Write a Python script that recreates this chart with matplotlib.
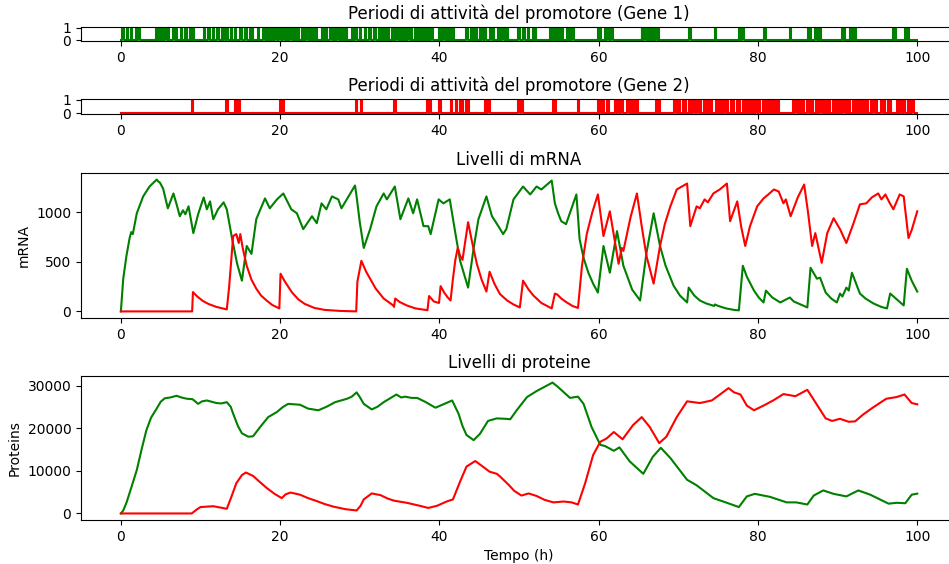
import numpy as np
import matplotlib
matplotlib.use("Agg")
import matplotlib.pyplot as plt

T_END = 100.0

# promoter switching times: consecutive pairs are (turn on, turn off), in hours
gene1_switch = [
	0.2, 0.35, 0.75, 0.9, 1.3, 1.45, 1.85, 2.0, 2.2, 2.35,
	4.4, 4.55, 4.7, 4.85, 5.0, 5.15, 5.3, 5.45, 5.6, 5.75, 5.9, 6.05,
	6.6, 6.75, 6.9, 7.05, 7.5, 7.7, 8.0, 8.12, 8.22, 8.35, 8.7, 8.85, 9.0, 9.15,
	10.4, 10.55, 11.0, 11.2, 11.6, 11.75, 12.1, 12.3,
	12.7, 12.85, 13.0, 13.15, 13.25, 13.4, 13.85, 13.95,
	14.3, 14.45, 15.0, 15.2, 15.6, 15.8, 16.2, 16.35, 16.45, 16.6, 17.2, 17.4,
	17.9, 18.05, 18.2, 18.35, 18.5, 18.65, 18.8, 18.95, 19.1, 19.25, 19.4, 19.55,
	19.9, 20.05,
	20.4, 20.55, 20.7, 20.85, 21.0, 21.15, 21.3, 21.45, 21.6, 21.75, 21.9, 22.05, 22.2, 22.35,
	22.7, 22.85, 23.0, 23.15, 23.3, 23.45, 23.6, 23.75, 23.9, 24.05, 24.2, 24.35, 24.45, 24.6,
	25.2, 25.35, 25.5, 25.65, 25.75, 25.9,
	26.3, 26.45, 26.6, 26.75, 26.9, 27.05, 27.2, 27.35, 27.5, 27.65, 27.8, 27.95, 28.1, 28.25, 28.3, 28.4,
	29.0, 29.1, 29.4, 29.6, 30.0, 30.2, 30.6, 30.8, 31.2, 31.4, 31.8, 32.0,
	32.4, 32.55, 32.7, 32.85, 33.0, 33.15, 33.3, 33.45, 33.5, 33.65,
	34.0, 34.15, 34.3, 34.45, 34.6, 34.75, 34.9, 35.05, 35.2, 35.35, 35.5, 35.65,
	35.8, 35.95, 36.1, 36.25, 36.4, 36.55,
	36.9, 37.05, 37.2, 37.35, 37.5, 37.65, 37.8, 37.95, 38.1, 38.25, 38.4, 38.55,
	38.7, 38.85, 39.0, 39.15,
	39.9, 40.05, 40.2, 40.35, 40.5, 40.65, 40.8, 40.95, 41.1, 41.25, 41.4, 41.55, 41.65, 41.8,
	43.4, 43.6, 44.0, 44.15, 44.3, 44.45, 44.6, 44.75,
	45.1, 45.25, 45.4, 45.55, 45.65, 45.8, 46.4, 46.55, 46.7, 46.85,
	47.3, 47.45, 47.6, 47.75, 47.9, 48.05, 48.2, 48.35, 48.5, 48.65,
	49.9, 50.1, 50.55, 50.75, 51.1, 51.3, 51.75, 51.9, 52.0, 52.15,
	53.9, 54.05, 54.2, 54.35, 54.5, 54.65, 54.8, 54.95, 55.1, 55.25, 55.4, 55.55,
	56.0, 56.1, 56.4, 56.55, 56.7, 56.85,
	59.9, 60.05, 60.2, 60.35, 60.8, 60.95, 61.1, 61.25, 61.6, 61.8,
	65.4, 65.5, 65.75, 65.9, 66.05, 66.2, 66.35, 66.5, 66.65, 66.8, 66.95, 67.1, 67.25, 67.4, 67.45, 67.6,
	71.3, 71.6, 74.6, 74.75, 77.6, 77.75, 78.05, 78.25, 80.8, 81.0, 84.0, 84.2,
	86.3, 86.45, 86.55, 86.65, 87.2, 87.35, 87.5, 87.65, 87.75, 87.9,
	90.6, 90.75, 90.85, 90.95, 91.5, 91.65, 91.9, 92.05, 92.2, 92.35,
	96.9, 97.05, 97.2, 97.35, 98.5, 98.6, 98.85, 99.0,
]

gene2_switch = [
	8.9, 9.1, 13.2, 13.45, 14.3, 14.45, 14.6, 14.75, 14.85, 15.0,
	20.0, 20.15, 20.3, 20.45, 29.5, 29.65, 30.1, 30.3, 34.3, 34.5,
	38.5, 38.7, 38.75, 38.9, 39.95, 40.2, 41.4, 41.6, 42.1, 42.25,
	42.6, 42.75, 42.85, 43.0, 43.35, 43.5, 43.6, 43.75,
	45.7, 45.9, 46.1, 46.3, 49.9, 50.1, 50.25, 50.45, 54.2, 54.35, 54.5, 54.7, 57.4, 57.55,
	59.9, 60.05, 60.1, 60.25, 60.5, 60.7, 61.0, 61.15, 61.2, 61.35,
	62.1, 62.25, 62.35, 62.5, 62.8, 63.0,
	63.6, 63.75, 63.9, 64.05, 64.2, 64.35, 64.5, 64.65, 64.75, 64.9,
	67.2, 67.35, 67.55, 67.75,
	69.5, 69.65, 69.8, 69.95, 70.1, 70.25, 70.6, 70.75, 70.85, 71.0,
	71.3, 71.45, 71.6, 71.75, 71.9, 72.05, 72.4, 72.55, 72.7, 72.85,
	73.2, 73.35, 73.5, 73.65, 73.8, 73.95, 74.1, 74.25,
	74.7, 74.85, 75.0, 75.15, 75.3, 75.45, 75.6, 75.75, 75.9, 76.05, 76.1, 76.2,
	76.6, 76.75, 76.85, 77.0, 77.4, 77.55, 77.6, 77.7,
	78.1, 78.25, 78.4, 78.55, 78.7, 78.85, 79.0, 79.15, 79.2, 79.3,
	79.5, 79.65, 79.8, 79.95, 80.05, 80.2, 80.6, 80.75, 80.9, 81.05, 81.1, 81.2,
	81.4, 81.55, 81.65, 81.8, 82.0, 82.15, 82.3, 82.45, 82.55, 82.7,
	84.4, 84.55, 84.7, 84.85, 85.0, 85.15, 85.3, 85.45, 85.6, 85.75,
	86.2, 86.35, 86.5, 86.65, 86.75, 86.9, 87.3, 87.45, 87.5, 87.65,
	87.85, 88.0, 88.15, 88.3, 88.35, 88.45,
	88.65, 88.8, 88.95, 89.1, 89.45, 89.6, 89.75, 89.9,
	90.15, 90.3, 90.45, 90.6, 90.7, 90.9,
	91.15, 91.3, 91.45, 91.6, 91.95, 92.1, 92.25, 92.4,
	92.7, 92.85, 93.0, 93.15, 93.45, 93.6, 93.7, 93.8,
	94.2, 94.35, 94.5, 94.65, 94.8, 94.95,
	95.5, 95.65, 95.8, 95.95, 96.3, 96.45, 96.55, 96.7,
	97.4, 97.55, 97.7, 97.85, 98.0, 98.15, 98.25, 98.4,
	98.8, 98.95, 99.1, 99.25, 99.4, 99.6,
]

# mRNA copy numbers
mrna1_t = [0.0, 0.3, 0.7, 1.1, 1.3, 1.5, 2.0, 2.8, 3.6, 4.5, 4.7, 4.9, 5.3, 5.9, 6.6, 7.0,
	7.4, 7.8, 8.1, 8.5, 9.1, 9.7, 10.4, 10.8, 11.2, 11.6, 12.2, 12.9, 13.3, 14.0, 14.6,
	15.2, 15.8, 16.4, 17.0, 18.1, 18.7, 19.6, 20.4, 21.4, 22.1, 22.9, 24.0, 24.6, 25.2,
	25.8, 26.5, 27.3, 27.7, 29.4, 29.6, 30.0, 30.5, 31.3, 32.1, 33.0, 33.4, 34.4, 35.1,
	36.1, 36.7, 37.2, 38.0, 38.6, 38.9, 39.9, 40.5, 41.3, 42.0, 42.6, 43.6, 44.3, 44.9,
	45.9, 46.6, 47.4, 48.0, 48.4, 49.3, 50.5, 51.4, 52.2, 52.8, 54.1, 54.5, 54.9, 55.3,
	55.9, 57.2, 57.6, 58.1, 58.7, 59.3, 59.9, 60.6, 61.4, 62.3, 63.1, 64.2, 65.2, 66.0,
	66.9, 67.7, 68.4, 69.4, 70.2, 71.1, 71.3, 72.0, 72.7, 73.5, 74.5, 74.6, 75.0, 76.0,
	77.0, 77.6, 78.1, 78.6, 79.5, 80.1, 80.7, 81.0, 81.8, 82.8, 84.0, 84.5, 86.2, 86.6,
	87.4, 87.8, 88.5, 89.2, 89.9, 90.3, 90.6, 91.1, 91.4, 91.8, 92.8, 93.5, 94.5, 95.5,
	96.2, 96.6, 98.3, 98.7, 99.3, 100.0]
mrna1 = [0, 330, 560, 740, 800, 780, 990, 1160, 1260, 1330, 1310, 1300, 1240, 1040, 1190, 1080,
	960, 1020, 980, 1060, 790, 980, 1150, 1030, 1110, 930, 1030, 1100, 1030, 720, 480,
	310, 660, 580, 930, 1140, 1040, 1130, 1190, 1030, 990, 830, 960, 890, 1090,
	1030, 1160, 1130, 1040, 1270, 1160, 900, 640, 830, 1060, 1190, 1130, 1260, 930,
	1140, 990, 1130, 860, 860, 780, 1130, 1090, 1130, 790, 510, 240, 640, 930,
	1160, 960, 860, 780, 830, 1130, 1260, 1180, 1260, 1230, 1320, 1090, 990, 910,
	880, 1180, 730, 540, 390, 280, 190, 660, 390, 810, 460, 220, 110, 590,
	990, 660, 460, 260, 160, 90, 240, 160, 110, 80, 55, 70, 55, 30,
	15, 10, 460, 350, 210, 140, 90, 210, 140, 90, 140, 100, 40, 440,
	330, 340, 190, 130, 90, 180, 150, 240, 210, 390, 180, 130, 80, 45,
	30, 180, 60, 430, 310, 200]

mrna2_t = [0.0, 8.95, 9.05, 9.6, 10.3, 11.0, 12.0, 13.3, 13.6, 13.9, 14.1, 14.5, 14.8, 15.0,
	15.3, 15.8, 16.4, 17.0, 17.6, 18.3, 19.0, 19.9, 20.05, 20.6, 21.5, 22.3, 23.1, 24.3,
	25.6, 27.5, 29.55, 29.7, 30.2, 30.8, 31.3, 32.0, 33.0, 34.2, 34.3, 34.45, 35.0, 35.9,
	37.0, 38.5, 38.7, 39.3, 39.95, 40.15, 40.6, 41.0, 41.4, 41.7, 42.0, 42.3, 42.6, 42.9,
	43.6, 44.1, 44.7, 45.3, 45.9, 46.3, 46.9, 47.6, 48.5, 49.3, 50.1, 50.5, 51.2, 51.8,
	52.8, 54.1, 54.5, 54.8, 55.3, 55.9, 56.7, 57.4, 57.9, 58.5, 59.2, 59.9, 60.6, 61.4,
	62.0, 62.5, 62.9, 63.1, 64.0, 64.8, 65.4, 66.0, 66.9, 67.7, 68.3, 69.0, 69.8, 70.9,
	71.1, 71.5, 72.3, 72.7, 73.3, 73.7, 74.4, 75.2, 76.1, 76.5, 77.4, 77.9, 78.4, 79.0,
	79.9, 80.7, 81.3, 82.0, 82.6, 83.2, 83.5, 84.1, 85.0, 85.8, 86.3, 86.8, 87.2, 88.0,
	88.7, 89.5, 90.3, 91.1, 92.0, 92.8, 93.6, 94.3, 95.1, 95.5, 96.0, 96.5, 97.0, 97.8,
	98.3, 98.9, 99.3, 100.0]
mrna2 = [0, 0, 195, 150, 105, 75, 45, 20, 250, 560, 760, 780, 690, 780,
	640, 460, 320, 230, 160, 110, 65, 30, 380, 300, 190, 120, 75, 35,
	15, 5, 0, 300, 510, 400, 330, 230, 130, 60, 45, 130, 95, 60,
	30, 12, 155, 100, 85, 255, 190, 145, 110, 330, 520, 640, 560, 520,
	900, 700, 480, 320, 200, 400, 280, 175, 110, 70, 40, 310, 220, 160,
	85, 30, 180, 170, 130, 95, 55, 35, 460, 780, 1000, 1180, 760, 1010,
	720, 480, 640, 610, 950, 1190, 860, 560, 280, 660, 880, 1060, 1230, 1280,
	1290, 860, 1060, 1040, 1130, 1100, 1190, 1230, 1290, 910, 1110, 850, 660, 860,
	1060, 1140, 1180, 1230, 1210, 1090, 1130, 960, 1150, 1280, 990, 660, 790, 490,
	790, 940, 830, 690, 890, 1080, 1090, 1150, 1190, 1130, 1180, 1100, 1030, 1180,
	1160, 740, 820, 1010]

# protein copy numbers
prot1_t = [0, 0.3, 0.7, 1.3, 2.0, 2.6, 3.2, 3.8, 4.5, 5.0, 5.5, 6.2, 7.0, 7.6, 8.3, 9.0,
	9.7, 10.2, 10.8, 11.4, 12.0, 12.6, 13.3, 13.8, 14.1, 14.7, 15.2, 16.0, 16.6, 17.5,
	18.5, 19.6, 20.3, 21.0, 22.5, 23.5, 24.8, 25.8, 26.9, 28.4, 29.0, 29.6, 30.0, 30.5,
	31.5, 32.2, 33.0, 34.6, 35.2, 35.7, 36.5, 37.2, 38.2, 39.5, 40.5, 41.6, 42.4, 42.9,
	43.4, 44.3, 45.1, 46.1, 47.2, 48.3, 48.9, 49.7, 51.0, 52.2, 53.1, 54.2, 54.8, 55.4,
	56.4, 57.4, 58.1, 59.1, 60.2, 60.8, 61.9, 62.6, 63.9, 65.6, 66.8, 67.8, 69.0, 71.1,
	72.3, 74.4, 76.1, 77.6, 78.6, 79.6, 81.5, 83.6, 84.8, 86.2, 87.0, 88.2, 89.5, 91.1,
	92.6, 94.1, 96.4, 97.4, 98.5, 99.3, 100.0]
prot1 = [0, 700, 2500, 6000, 10200, 15000, 19500, 22500, 24600, 26200, 27000, 27200, 27600,
	27200, 26900, 26800, 25700, 26300, 26500, 26200, 25900, 25800, 26100, 25000, 23400,
	20500, 18800, 18000, 18100, 20300, 22600, 23800, 24900, 25700, 25500, 24600, 24200,
	25000, 26100, 26900, 27400, 28400, 27300, 25700, 24400, 25000, 26100, 27900, 27200,
	27400, 27100, 27100, 26200, 24800, 25600, 26500, 23400, 20500, 18400, 17200, 18700,
	21700, 22300, 22200, 22100, 24200, 27300, 28700, 29600, 30700, 29800, 28800, 27100,
	27400, 25700, 20300, 16100, 15800, 14700, 15500, 12200, 9300, 13300, 15400, 13000,
	7900, 6600, 3600, 2500, 1500, 4000, 4600, 3900, 2600, 2600, 2100, 4200, 5400, 4600,
	4000, 5400, 4400, 2300, 2500, 2400, 4400, 4650]

prot2_t = [0, 8.9, 9.5, 10.0, 11.6, 13.3, 13.8, 14.5, 15.2, 15.7, 16.6, 17.5, 18.3, 19.3,
	20.2, 20.7, 21.3, 22.5, 23.5, 24.6, 25.6, 26.7, 28.2, 29.6, 30.1, 30.5, 31.5, 32.6,
	33.5, 34.3, 35.9, 37.3, 38.6, 39.7, 40.9, 41.7, 42.6, 43.4, 44.5, 45.3, 46.3, 47.2,
	47.6, 48.7, 49.4, 50.3, 51.2, 52.2, 53.2, 54.3, 55.6, 56.6, 57.4, 58.3, 59.3, 60.2,
	61.0, 61.9, 63.0, 64.3, 65.4, 66.4, 67.6, 68.5, 69.8, 71.1, 72.7, 74.2, 75.3, 76.3,
	77.0, 77.8, 78.6, 79.5, 80.7, 81.9, 83.2, 84.7, 86.2, 87.2, 88.5, 89.3, 90.3, 91.4,
	92.2, 93.2, 94.4, 96.1, 97.4, 98.4, 99.3, 100.0]
prot2 = [0, 0, 900, 1500, 1700, 1100, 3500, 7100, 9000, 9600, 8800, 7300, 6000, 4600,
	3600, 4500, 4900, 4400, 3600, 2900, 2200, 1600, 1000, 700, 1800, 3300, 4700, 4300,
	3500, 3000, 2500, 1900, 1300, 1800, 2800, 3300, 7500, 11000, 12300, 11200, 9800, 9300,
	8700, 6700, 5300, 4200, 4700, 4100, 3200, 2600, 2800, 2600, 2100, 7100, 13700, 16800,
	17600, 19100, 17400, 20700, 22600, 20300, 16500, 18000, 22600, 26300, 25900, 26500, 28000, 29400,
	28400, 27900, 25300, 24200, 25300, 26500, 28000, 27500, 29000, 26100, 22300, 21700, 22200, 21500,
	21600, 23200, 24800, 26900, 27300, 27900, 25900, 25600]


def on_trace(switch) :
	# 0/1 step trace from (on, off) switching pairs
	t = [0.0]
	s = [0]
	for a, b in zip(switch[0::2], switch[1::2]) :
		t += [a, a, b, b]
		s += [0, 1, 1, 0]
	t.append(T_END)
	s.append(0)
	return np.array(t), np.array(s)


fig = plt.figure(figsize=(9.49, 5.64), dpi=100)

ax1 = fig.add_axes([0.0854, 0.9273, 0.9231, 0.0248])
t, s = on_trace(gene1_switch)
ax1.plot(t, s, color='green')
ax1.set_title("Periodi di attività del promotore (Gene 1)")
ax1.set_yticks([0, 1])

ax2 = fig.add_axes([0.0854, 0.7979, 0.9231, 0.0266])
t, s = on_trace(gene2_switch)
ax2.plot(t, s, color='red')
ax2.set_title("Periodi di attività del promotore (Gene 2)")
ax2.set_yticks([0, 1])

ax3 = fig.add_axes([0.0854, 0.4362, 0.9231, 0.2571])
ax3.plot(mrna1_t, mrna1, color='green')
ax3.plot(mrna2_t, mrna2, color='red')
ax3.set_title("Livelli di mRNA")
ax3.set_ylabel("mRNA")

ax4 = fig.add_axes([0.0854, 0.0780, 0.9231, 0.2553])
ax4.plot(prot1_t, prot1, color='green')
ax4.plot(prot2_t, prot2, color='red')
ax4.set_title("Livelli di proteine")
ax4.set_ylabel("Proteins")
ax4.set_xlabel("Tempo (h)")

fig.savefig("out.png", dpi=100)
